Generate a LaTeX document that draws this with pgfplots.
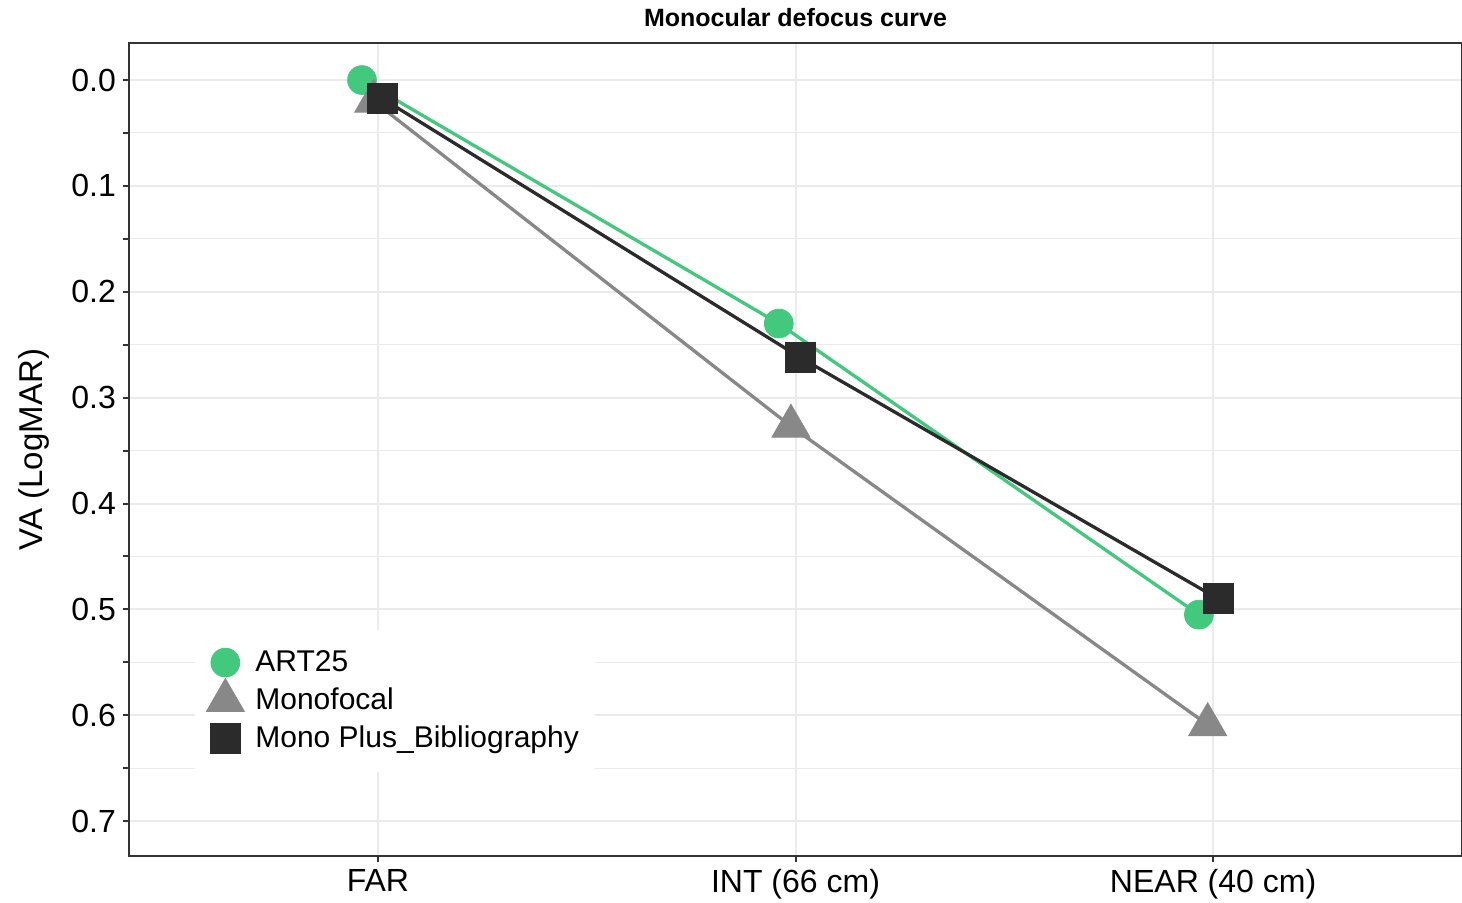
\documentclass[border=0pt]{standalone}
\usepackage{fontspec}
\setmainfont{Liberation Sans}
\usepackage{pgfplots}
\pgfplotsset{compat=1.18}
\definecolor{art}{HTML}{43C97D}
\definecolor{mono}{HTML}{888888}
\definecolor{plus}{HTML}{2B2B2B}
\definecolor{gridc}{HTML}{EBEBEB}
\definecolor{frame}{HTML}{333333}

\begin{document}
\begin{tikzpicture}
\path[use as bounding box] (-64.5pt,-23pt) rectangle (666.5pt,428pt);
\begin{axis}[at={(0pt,0pt)},anchor=south west,scale only axis,
  width=666.5pt,height=406.5pt,
  xmin=0.404,xmax=3.596,ymin=-0.035,ymax=0.733,y dir=reverse,
  xtick={1,2,3},xticklabels={FAR,INT (66 cm),NEAR (40 cm)},
  ytick={0,0.1,0.2,0.3,0.4,0.5,0.6,0.7},
  yticklabels={0.0,0.1,0.2,0.3,0.4,0.5,0.6,0.7},
  minor ytick={0.05,0.15,0.25,0.35,0.45,0.55,0.65},
  xmajorgrids,ymajorgrids,yminorgrids,
  major grid style={gridc,line width=1pt},
  minor grid style={gridc,line width=0.5pt},
  axis line style={frame,line width=1pt},
  tick pos=left,tick align=outside,major tick length=3pt,
  tick style={frame,line width=1pt},
  ticklabel style={font=\fontsize{16}{18}\selectfont},
  title={Monocular defocus curve},
  title style={at={(rel axis cs:0.5,1)},font=\fontsize{12.5}{14}\selectfont\bfseries,
    anchor=base,yshift=2.5pt},
  ylabel={VA (LogMAR)},
  every axis y label/.style={at={(rel axis cs:0,0.5)},xshift=-47.5pt,rotate=90,anchor=center},
  ylabel style={font=\fontsize{16.5}{18}\selectfont},
  legend cell align=left,
  legend style={at={(rel axis cs:0.0495,0.2790)},anchor=north west,draw=none,fill=white,
    font=\fontsize{15}{17}\selectfont,inner xsep=6pt,inner ysep=7pt,row sep=0pt,column sep=4pt},
  mk/.style={only marks,legend image code/.code={%
    \draw[##1] plot coordinates {(0pt,0pt)};
    \pgfresetboundingbox
    \path[draw=none,fill=none] (-9pt,-9.5pt) rectangle (9pt,9.5pt);}},
]
\addplot[mk,mark=*,mark size=7.2pt,color=art] coordinates {
  (0.962,0.000) (1.960,0.230) (2.966,0.505)};
\addlegendentry{ART25}
\addplot[mk,mark=triangle*,mark size=11pt,color=mono] coordinates {
  (0.990,0.020) (1.989,0.327) (2.987,0.609)};
\addlegendentry{Monofocal}
\addplot[mk,mark=square*,mark size=7.5pt,color=plus] coordinates {
  (1.011,0.0175) (2.011,0.262) (3.012,0.490)};
\addlegendentry{Mono Plus\_Bibliography}
\addplot[forget plot,art,line width=1.65pt,mark=none] coordinates {
  (0.962,0.000) (1.960,0.230) (2.966,0.505)};
\addplot[forget plot,mono,line width=1.65pt,mark=none] coordinates {
  (0.990,0.020) (1.989,0.327) (2.987,0.609)};
\addplot[forget plot,plus,line width=1.65pt,mark=none] coordinates {
  (1.011,0.0175) (2.011,0.262) (3.012,0.490)};
\end{axis}
\end{tikzpicture}
\end{document}
